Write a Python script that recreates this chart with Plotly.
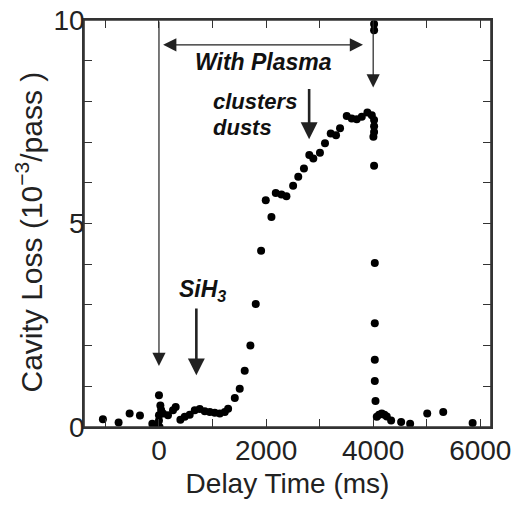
import plotly.graph_objects as go

delay_ms = [-1047, -754, -548, -355, -124, -62, -20, 0, 0, 0, 26, 10, 40, 75, 168, 262, 312,
            400, 481, 574, 668, 761, 855, 949, 1042, 1136, 1229, 1291, 1416, 1508, 1601,
            1707, 1807, 1907, 1994, 2100, 2181, 2287, 2380, 2505, 2601, 2707, 2807, 2882,
            3006, 3100, 3207, 3306, 3381, 3506, 3599, 3693, 3787, 3892, 3974, 4017, 4017,
            4017, 4004, 4017, 4017, 4017, 4030, 4030, 4030, 4030, 4043, 4067, 4110, 4160,
            4210, 4254, 4335, 4522, 4690, 5009, 5308, 5857]
cavity_loss = [0.19, 0.11, 0.33, 0.28, 0.08, 0.02, 0.05, 0.16, 0.29, 0.78, 0.53, 0.0, 0.42,
               0.33, 0.29, 0.41, 0.49, 0.18, 0.25, 0.30, 0.41, 0.44, 0.39, 0.37, 0.35, 0.33,
               0.37, 0.45, 0.71, 0.94, 1.38, 2.00, 3.02, 4.33, 5.57, 5.16, 5.75, 5.71, 5.67,
               5.93, 6.15, 6.35, 6.68, 6.60, 6.74, 6.97, 7.21, 7.17, 7.34, 7.64, 7.58, 7.56,
               7.62, 7.73, 7.66, 7.54, 7.39, 7.25, 7.13, 6.42, 9.90, 9.75, 4.03, 2.55, 1.65,
               1.13, 0.64, 0.25, 0.30, 0.33, 0.30, 0.26, 0.16, 0.12, 0.08, 0.33, 0.37, 0.10]

x_ticks = [0, 2000, 4000, 6000]
y_ticks = [0, 5, 10]

FONT = "Liberation Sans, Arial, Helvetica, sans-serif"
AX = "#333333"
TXT = "#222222"

fig = go.Figure()
fig.add_trace(go.Scatter(x=delay_ms, y=cavity_loss, mode="markers",
                         marker=dict(color="black", size=8), showlegend=False))

def arrow(x, y, ax, ay, width, size, head=2, side="end"):
    fig.add_annotation(x=x, y=y, ax=ax, ay=ay, xref="x", yref="y", axref="x", ayref="y",
                       text="", showarrow=True, arrowhead=head, arrowsize=size,
                       arrowwidth=width, arrowcolor="#222222", arrowside=side,
                       startarrowhead=head, startarrowsize=size, standoff=0, startstandoff=0)

arrow(0, 1.5, 0, 10, 1.2, 2.2)
arrow(4000, 8.34, 4000, 10, 1.2, 2.2)
arrow(3810, 9.39, 50, 9.39, 1.2, 2.2, side="end+start")
arrow(2804, 7.07, 2804, 8.34, 2.6, 1.3)
arrow(698, 1.27, 698, 2.95, 2.6, 1.3)

ann_font = dict(family=FONT, size=23, color="#111111")
small_font = dict(family=FONT, size=22, color="#111111")
fig.add_annotation(x=1956, y=8.96, xref="x", yref="y", showarrow=False,
                   text="<b><i>With Plasma</i></b>", font=ann_font)
fig.add_annotation(x=965, y=7.99, xref="x", yref="y", showarrow=False, xanchor="left",
                   text="<b><i>clusters</i></b>", font=small_font)
fig.add_annotation(x=965, y=7.36, xref="x", yref="y", showarrow=False, xanchor="left",
                   text="<b><i>dusts</i></b>", font=small_font)
fig.add_annotation(x=822, y=3.36, xref="x", yref="y", showarrow=False,
                   text="<b><i>SiH<sub>3</sub></i></b>", font=ann_font)

# y-axis title (annotation so it can sit slightly below the axis centre, as in the original)
fig.add_annotation(x=0, y=0.5, xref="paper", yref="paper", xanchor="center", yanchor="middle",
                   xshift=-55, yshift=-9, textangle=-90, showarrow=False,
                   text="Cavity Loss (10<sup>−3</sup>/pass )",
                   font=dict(family=FONT, size=30, color=TXT))

# plot frame
fig.add_shape(type="rect", xref="paper", yref="paper", x0=0, x1=1, y0=0, y1=1,
              line=dict(color=AX, width=1.6), layer="above")

axis_common = dict(showline=True, linecolor=AX, linewidth=1.5, mirror="ticks",
                   ticks="inside", ticklen=8, tickwidth=1.3, tickcolor=AX,
                   showgrid=False, zeroline=False, automargin=False,
                   ticklabeloverflow="allow",
                   tickfont=dict(family=FONT, size=28, color=TXT))

fig.update_xaxes(range=[-1400, 6200], tickvals=x_ticks, ticklabelstandoff=-2,
                 minor=dict(dtick=1000, tick0=0, ticks="inside", ticklen=8, tickwidth=1.3,
                            tickcolor=AX, showgrid=False),
                 title=dict(text="Delay Time (ms)", font=dict(family=FONT, size=28, color=TXT),
                            standoff=8),
                 **axis_common)
fig.update_yaxes(range=[0, 10], tickvals=y_ticks, ticklabelstandoff=-8,
                 minor=dict(dtick=1, tick0=0, ticks="inside", ticklen=8, tickwidth=1.3,
                            tickcolor=AX, showgrid=False),
                 **axis_common)

fig.update_layout(width=521, height=507, margin=dict(l=76, r=38, t=12, b=88),
                  plot_bgcolor="white", paper_bgcolor="white",
                  font=dict(family=FONT))

fig.write_html("out.html")
